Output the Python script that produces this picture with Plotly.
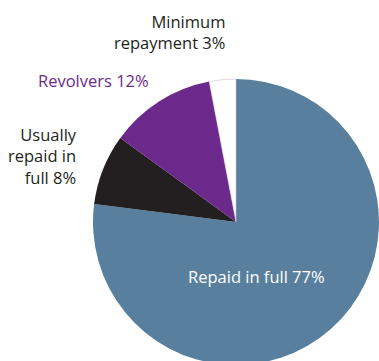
import plotly.graph_objects as go

# Share of credit card holders by repayment behaviour
labels = ["Repaid in full", "Usually repaid in full", "Revolvers", "Minimum repayment"]
values = [77, 8, 12, 3]
colors = ["#58809e", "#231f20", "#6b2a8b", "#ffffff"]

W, H = 379, 370

fig = go.Figure(
    go.Pie(
        labels=labels,
        values=values,
        sort=False,
        direction="clockwise",
        rotation=0,
        textinfo="none",
        hoverinfo="label+percent",
        marker=dict(
            colors=colors,
            line=dict(color=["rgba(0,0,0,0)"] * 3 + ["#c9c0d3"], width=[0, 0, 0, 0.6]),
        ),
        domain=dict(x=[93 / W, 1.0], y=[0.0, 296 / H]),
        showlegend=False,
    )
)

font = "Open Sans"
dark = "#231f20"
size = 16.5

def label(i):
    return f"{values[i]}%"

annotations = [
    dict(text=f"Minimum<br>repayment {label(3)}", x=227, y=32, xanchor="right", yanchor="middle",
         align="right", font=dict(color=dark, size=size, family=font)),
    dict(text=f"Revolvers {label(2)}", x=36, y=80, xanchor="left", yanchor="middle",
         align="left", font=dict(color="#6b2a8b", size=size, family=font)),
    dict(text=f"Usually<br>repaid in<br>full {label(1)}", x=79, y=156, xanchor="right", yanchor="middle",
         align="right", font=dict(color=dark, size=size, family=font)),
    dict(text=f"{labels[0]} {label(0)}", x=256, y=276, xanchor="center", yanchor="middle",
         align="center", font=dict(color="#ffffff", size=size, family=font)),
]
for a in annotations:
    a.update(xref="paper", yref="paper", showarrow=False)
    a["x"] = a["x"] / W
    a["y"] = 1 - a["y"] / H

fig.update_layout(
    width=W,
    height=H,
    autosize=False,
    margin=dict(l=0, r=0, t=0, b=0),
    paper_bgcolor="#ffffff",
    plot_bgcolor="#ffffff",
    annotations=annotations,
)

fig.write_html("out.html")
